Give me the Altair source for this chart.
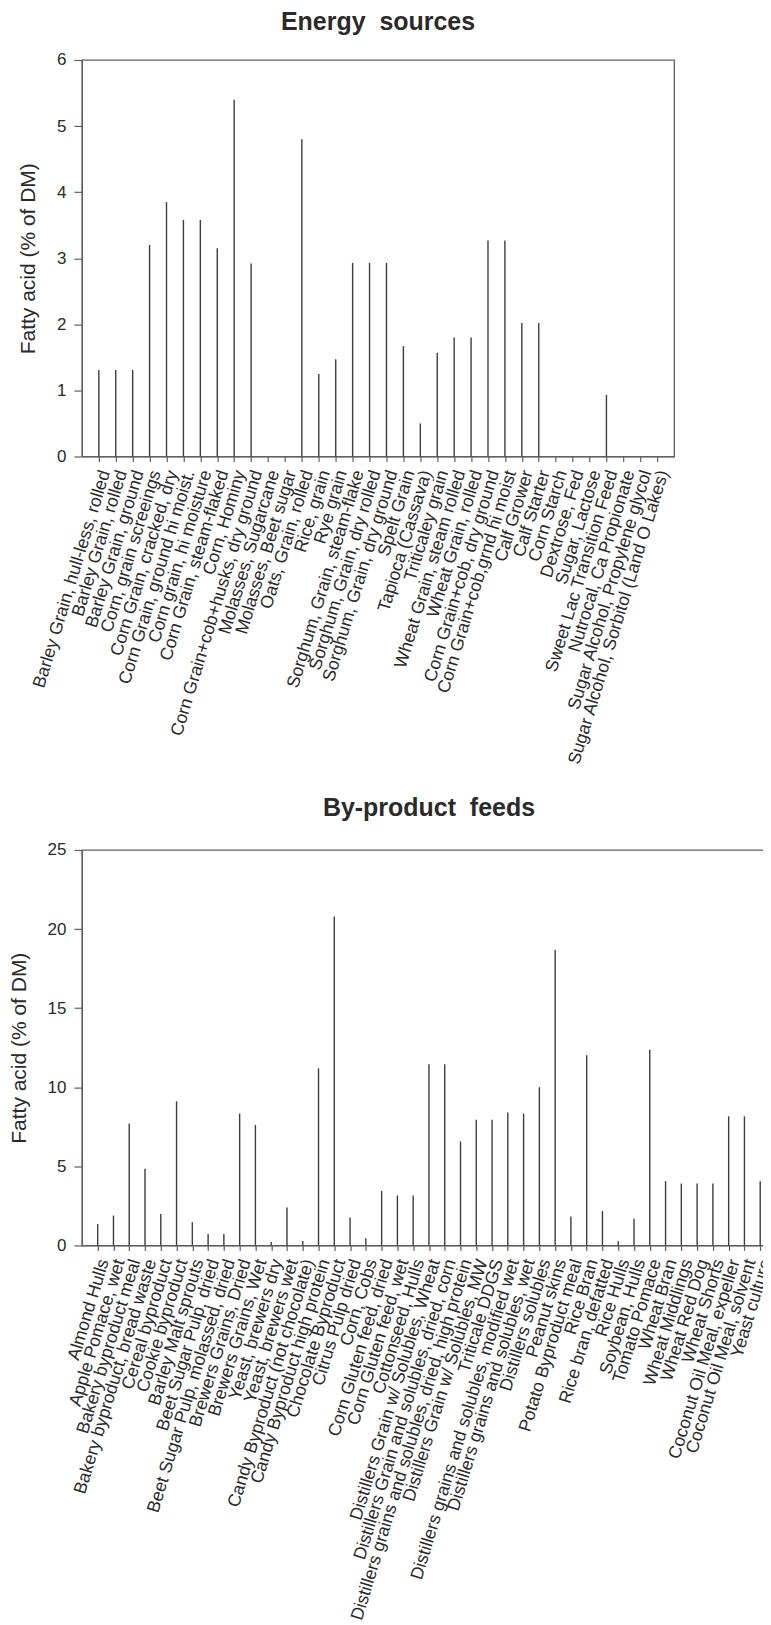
import altair as alt
import pandas as pd

# ---------------- data ----------------
energy_feeds = [
    "Barley Grain, hull-less, rolled",
    "Barley Grain, rolled",
    "Barley Grain, ground",
    "Corn, grain screeings",
    "Corn Grain, cracked, dry",
    "Corn Grain, ground hi moist.",
    "Corn grain, hi moisture",
    "Corn Grain, steam-flaked",
    "Corn, Hominy",
    "Corn Grain+cob+husks, dry ground",
    "Molasses, Sugarcane",
    "Molasses, Beet sugar",
    "Oats, Grain, rolled",
    "Rice, grain",
    "Rye grain",
    "Sorghum, Grain, steam-flake",
    "Sorghum, Grain, dry rolled",
    "Sorghum, Grain, dry ground",
    "Spelt Grain",
    "Tapioca (Cassava)",
    "Triticaley grain",
    "Wheat Grain, steam rolled",
    "Wheat Grain, rolled",
    "Corn Grain+cob, dry ground",
    "Corn Grain+cob,grnd hi moist",
    "Calf Grower",
    "Calf Starter",
    "Corn Starch",
    "Dextrose, Fed",
    "Sugar, Lactose",
    "Sweet Lac Transition Feed",
    "Nutrocal, Ca Propionate",
    "Sugar Alcohol, Propylene glycol",
    "Sugar Alcohol, Sorbitol (Land O Lakes)",
]
energy_fa = [
    1.31, 1.31, 1.31, 3.20, 3.85, 3.58, 3.58, 3.15, 5.40, 2.92,
    0.0, 0.0, 4.80, 1.25, 1.47, 2.93, 2.93, 2.93, 1.67, 0.50,
    1.57, 1.80, 1.80, 3.27, 3.27, 2.02, 2.02, 0.0, 0.0, 0.0,
    0.93, 0.0, 0.0, 0.0,
]

byproduct_feeds = [
    "Almond Hulls",
    "Apple Pomace, wet",
    "Bakery byproduct meal",
    "Bakery byproduct, bread waste",
    "Cereal byproduct",
    "Cookie byproduct",
    "Barley Malt sprouts",
    "Beet Sugar Pulp, dried",
    "Beet Sugar Pulp, molassed, dried",
    "Brewers Grains, Dried",
    "Brewers Grains, Wet",
    "Yeast, brewers dry",
    "Yeast, brewers wet",
    "Candy Byproduct (not chocolate)",
    "Candy Byproduct high protein",
    "Chocolate Byproduct",
    "Citrus Pulp dried",
    "Corn, Cobs",
    "Corn Gluten feed, dried",
    "Corn Gluten feed, wet",
    "Cottonseed, Hulls",
    "Distillers Grain w/ Solubles, Wheat",
    "Distillers Grain and solubles, dried, corn",
    "Distillers grains and solubles, dried, high protein",
    "Distillers Grain w/ Solubles, MW",
    "Triticale DDGS",
    "Distillers grains and solubles, modified wet",
    "Distillers grains and solubles, wet",
    "Distillers solubles",
    "Peanut skins",
    "Potato Byproduct meal",
    "Rice Bran",
    "Rice bran, defatted",
    "Rice Hulls",
    "Soybean, Hulls",
    "Tomato Pomace",
    "Wheat Bran",
    "Wheat Middlings",
    "Wheat Red Dog",
    "Wheat Shorts",
    "Coconut Oil Meal, expeller",
    "Coconut Oil Meal, solvent",
    "Yeast culture",
]
byproduct_fa = [
    1.35, 1.89, 7.70, 4.84, 1.98, 9.11, 1.47, 0.72, 0.72, 8.33,
    7.62, 0.22, 2.40, 0.28, 11.2, 20.8, 1.77, 0.45, 3.45, 3.16,
    3.16, 11.45, 11.45, 6.57, 7.95, 7.95, 8.40, 8.33, 10.0, 18.67,
    1.83, 12.02, 2.17, 0.27, 1.68, 12.37, 4.06, 3.91, 3.91, 3.91,
    8.16, 8.16, 4.06,
]

# ---------------- style ----------------
FONT = "Liberation Sans"
AXIS_GRAY = "#606060"
BAR_COLOR = "#3d3d3d"
TEXT = "#2a2a2a"


def panel(names, vals, title, ymax, ystep, width, height, title_offset):
    df = pd.DataFrame({"feed": names, "fa": vals})
    return (
        alt.Chart(df)
        .mark_rule(color=BAR_COLOR, strokeWidth=1.4)
        .encode(
            x=alt.X(
                "feed:N",
                sort=names,
                scale=alt.Scale(type="point", padding=1, domain=names),
                axis=alt.Axis(
                    title=None,
                    labelAngle=-73,
                    labelFontSize=17.75,
                    labelLimit=0,
                    labelOverlap=False,
                    labelPadding=9,
                    labelOffset=6,
                    tickSize=5,
                ),
            ),
            y=alt.Y(
                "fa:Q",
                scale=alt.Scale(domain=[0, ymax], nice=False),
                axis=alt.Axis(
                    values=list(range(0, ymax + 1, ystep)),
                    title="Fatty acid (% of DM)",
                    titleFontSize=21,
                    titleFontWeight="normal",
                    titlePadding=18,
                    labelFontSize=17,
                    labelPadding=8,
                    tickSize=8,
                    grid=False,
                ),
            ),
            y2=alt.datum(0),
        )
        .properties(
            width=width,
            height=height,
            title=alt.TitleParams(
                title,
                fontSize=25,
                fontWeight="bold",
                font=FONT,
                color=TEXT,
                anchor="middle",
                offset=title_offset,
            ),
        )
    )


top = panel(energy_feeds, energy_fa, "Energy\u00a0 sources", 6, 1, 593, 397, 16)
bottom = panel(byproduct_feeds, byproduct_fa, "By-product\u00a0 feeds", 25, 5, 695, 396, 20)

chart = (
    alt.vconcat(top, bottom, spacing=27)
    .properties(padding={"left": -1, "top": 0, "right": -14, "bottom": 0})
    .configure(font=FONT)
    .configure_view(stroke=AXIS_GRAY, strokeWidth=1.3)
    .configure_axis(
        labelFont=FONT,
        titleFont=FONT,
        labelColor=TEXT,
        titleColor=TEXT,
        domainColor=AXIS_GRAY,
        domainWidth=1.3,
        tickColor=AXIS_GRAY,
        tickWidth=1.2,
    )
)

chart.save("out.html", embed_options={"renderer": "svg", "actions": False})
